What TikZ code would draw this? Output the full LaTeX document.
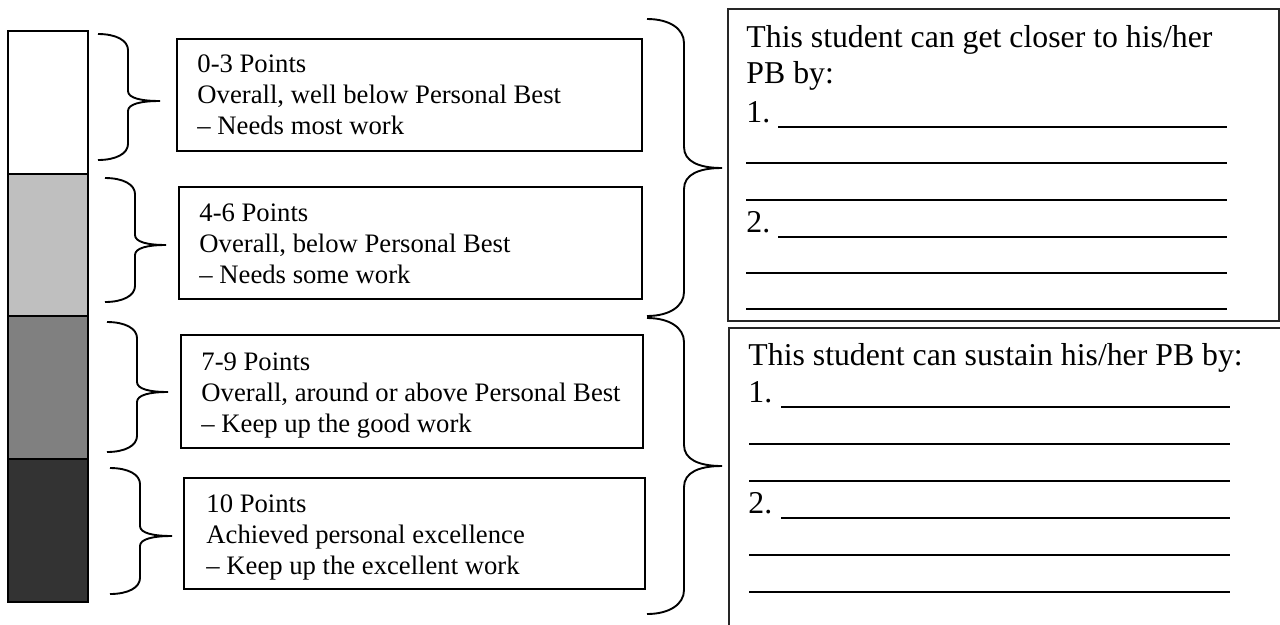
\documentclass[tikz,border=0pt]{standalone}
\usepackage{fontspec}
\setmainfont{Liberation Serif}
% right brace: left x, spine x, tip x, top y, tip y, bottom y, end curve, tip curve
\newcommand\curlybrace[8]{%
  \draw[brc] (#1,#4) .. controls ({#1+0.6*(#2-#1)},#4) and (#2,{#4+0.4*#7}) .. (#2,{#4+#7})
    -- (#2,{#5-#8}) .. controls (#2,{#5-0.3*#8}) and ({#2+0.4*(#3-#2)},#5) .. (#3,#5)
    .. controls ({#2+0.4*(#3-#2)},#5) and (#2,{#5+0.3*#8}) .. (#2,{#5+#8})
    -- (#2,{#6-#7}) .. controls (#2,{#6-0.4*#7}) and ({#1+0.6*(#2-#1)},#6) .. (#1,#6);}
\begin{document}
\begin{tikzpicture}[x=0.45pt,y=-0.45pt,
  seg/.style={draw=black,line width=1.1pt},
  lbox/.style={draw=black,line width=0.7pt,inner sep=0pt,anchor=north west},
  rbox/.style={draw=black!85,line width=0.9pt,inner sep=0pt,anchor=north west},
  brc/.style={draw=black,line width=0.85pt},
  rule/.style={draw=black,line width=0.9pt},
  ltxt/.style={anchor=base west,inner sep=0pt,font=\fontsize{12}{14}\selectfont},
  rtxt/.style={anchor=base west,inner sep=0pt,font=\fontsize{14.3}{16}\selectfont}]

\useasboundingbox (0,0) rectangle (1280,624);
\clip (0,0) rectangle (1280,624);

% score bar
\fill[white]          (8,31)  rectangle (88,174);
\fill[black!25]       (8,174) rectangle (88,316);
\fill[black!50]       (8,316) rectangle (88,459);
\fill[black!80]       (8,459) rectangle (88,602);
\draw[seg] (8,31) rectangle (88,174);
\draw[seg] (8,174) rectangle (88,316);
\draw[seg] (8,316) rectangle (88,459);
\draw[seg] (8,459) rectangle (88,602);

% small braces from bar to level boxes
\curlybrace{98}{128}{160}{34}{101}{160}{16}{10}
\curlybrace{105}{135}{166}{178}{245}{302}{16}{10}
\curlybrace{107}{137}{168}{322}{392}{452}{16}{10}
\curlybrace{110}{140}{172}{468}{536}{594}{16}{10}

% level boxes
\node[lbox,minimum width=465*0.45pt,minimum height=112*0.45pt] (b1) at (176,38) {};
\node[lbox,minimum width=463*0.45pt,minimum height=112*0.45pt] (b2) at (178,186) {};
\node[lbox,minimum width=462*0.45pt,minimum height=113*0.45pt] (b3) at (180,334) {};
\node[lbox,minimum width=461*0.45pt,minimum height=111*0.45pt] (b4) at (183,477) {};

\node[ltxt] (b1a) at (197,72)  {0-3 Points};
\node[ltxt] (b1b) at (197,103) {Overall, well below Personal Best};
\node[ltxt] (b1c) at (197,134) {– Needs most work};
\node[ltxt] (b2a) at (199,221) {4-6 Points};
\node[ltxt] (b2b) at (199,252) {Overall, below Personal Best};
\node[ltxt] (b2c) at (199,283) {– Needs some work};
\node[ltxt] (b3a) at (201,370) {7-9 Points};
\node[ltxt] (b3b) at (201,401) {Overall, around or above Personal Best};
\node[ltxt] (b3c) at (201,432) {– Keep up the good work};
\node[ltxt] (b4a) at (206,512) {10 Points};
\node[ltxt] (b4b) at (206,543) {Achieved personal excellence};
\node[ltxt] (b4c) at (206,574) {– Keep up the excellent work};

% large braces to the comment boxes
\curlybrace{647}{684}{722}{19}{168}{316}{24}{21}
\curlybrace{647}{684}{722}{318}{466}{614}{24}{21}

% comment boxes
\node[rbox,minimum width=551*0.45pt,minimum height=312*0.45pt] (ca) at (727,8) {};
\node[rbox,minimum width=570*0.45pt,minimum height=330*0.45pt] (cb) at (728,327) {};

\node[rtxt] (ca1) at (746,47) {This student can get closer to his/her};
\node[rtxt] (ca2) at (746,83) {PB by:};
\node[rtxt] (ca3) at (746,122) {1.};
\node[rtxt] (ca4) at (746,232) {2.};
\draw[rule] (778,127) -- (1227,127);
\draw[rule] (746,163) -- (1227,163);
\draw[rule] (746,200) -- (1227,200);
\draw[rule] (778,237) -- (1227,237);
\draw[rule] (746,273) -- (1227,273);
\draw[draw=black,line width=0.5pt] (746,309) -- (1227,309);

\node[rtxt] (cb1) at (748,365) {This student can sustain his/her PB by:};
\node[rtxt] (cb2) at (748,402) {1.};
\node[rtxt] (cb3) at (748,513) {2.};
\draw[rule] (781,407) -- (1230,407);
\draw[rule] (749,444) -- (1230,444);
\draw[rule] (749,481) -- (1230,481);
\draw[rule] (781,518) -- (1230,518);
\draw[rule] (749,555) -- (1230,555);
\draw[rule] (749,592) -- (1230,592);
\end{tikzpicture}
\end{document}
